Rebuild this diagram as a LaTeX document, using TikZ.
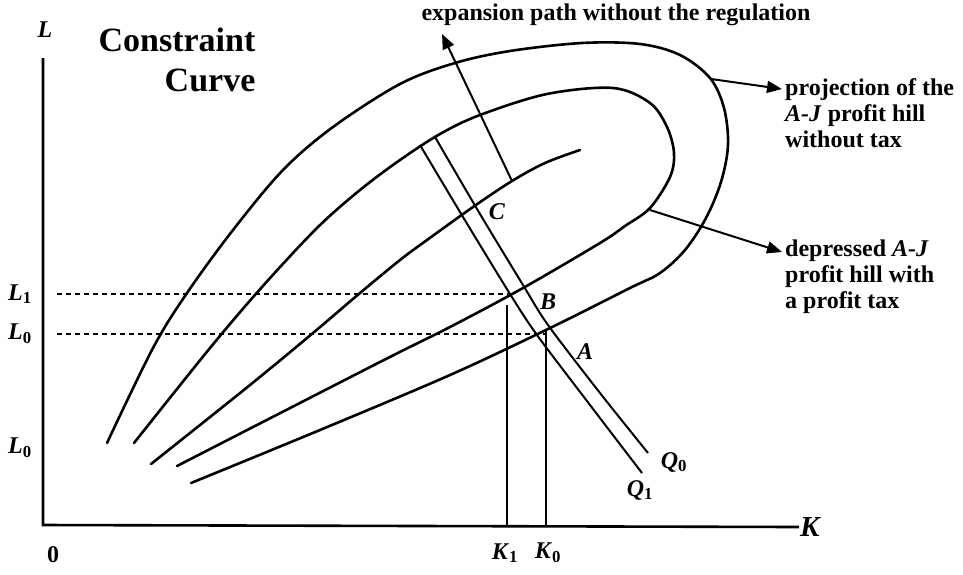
\documentclass[tikz,border=0pt]{standalone}
\usepackage{fontspec}
\setmainfont{Liberation Serif}
\usepackage{tikz}
\usetikzlibrary{arrows.meta,positioning}
\newcommand\sbl[2]{\textit{#1}\textsubscript{#2}}

\begin{document}
\begin{tikzpicture}[x=1pt,y=-1pt, font=\fontsize{24}{26}\selectfont\bfseries, inner sep=1pt,
  curve/.style={line width=2.6pt, line cap=round},
  iso/.style={line width=2pt},
  guide/.style={line width=1.4pt, dash pattern=on 4.5pt off 4.5pt},
  drop/.style={line width=2pt},
  ptr/.style={line width=2pt, -{Triangle[length=15pt,width=12pt]}},
  big/.style={font=\fontsize{34}{40}\selectfont\bfseries}]
  \useasboundingbox (0,0) rectangle (963,574);
  \node (lax) at (45,30) {\textit{L}};
  \node[anchor=west, font=\fontsize{29}{32}\selectfont\bfseries] (kax) at (799,527) {\textit{K}};
  \coordinate (ltop) at (43,58);
  \coordinate (orig) at (43,525);
  \draw[line width=2.6pt] (ltop) -- (orig) -- (kax.west);
  \node (zero) at (53,555) {0};
  \node[big, align=right] (constr) at (177,60) {Constraint\\Curve};
  \draw[curve] plot[smooth, tension=0.55] coordinates {(107,443) (153,348) (187,293) (233,230) (283,170) (333,127) (400,84) (455,63) (510,51) (582,43) (640,44) (680,55) (710,78) (724,108) (728,145) (721,182) (706,218) (685,250) (660,273) (630,288) (548,329) (450,375) (320,430) (191,483)};
  \draw[curve] plot[smooth, tension=0.55] coordinates {(134,443) (210,348) (262,287) (317,228) (360,190) (400,160) (440,134) (480,115) (547,94) (613,88) (650,103) (667,127) (674,153) (670,177) (650,208) (625,226) (600,243) (523,288) (450,327) (380,362) (177,466)};
  \draw[curve] plot[smooth, tension=0.55] coordinates {(151,464) (250,385) (313,333) (360,293) (400,260) (427,240) (473,207) (512,181) (545,163) (580,150)};
  \draw[iso] plot[smooth] coordinates {(420,145) (463,217) (510,294) (537,335) (590,405) (642,473)};
  \draw[iso] plot[smooth] coordinates {(435,137) (480,214) (523,285) (548,325) (600,393) (648,453)};
  \coordinate (lonestart) at (57,294);
  \coordinate (lzerostart) at (57,334);
  \coordinate (bq) at (510,294);
  \coordinate (aq) at (546,334);
  \coordinate (aqtop) at (546,329);
  \coordinate (konetop) at (507,305);
  \draw[guide] (lonestart) -- (bq);
  \draw[guide] (lzerostart) -- (aq);
  \draw[drop] (aqtop) -- (aqtop |- orig);
  \draw[drop] (konetop) -- (konetop |- orig);
  \node (lone) at (20,294) {\sbl{L}{1}};
  \node (lzero) at (20,334) {\sbl{L}{0}};
  \node (lzerob) at (20,448) {\sbl{L}{0}};
  \node (kone) at (505,553) {\sbl{K}{1}};
  \node (kzero) at (548,553) {\sbl{K}{0}};
  \node (qzero) at (674,462) {\sbl{Q}{0}};
  \node (qone) at (640,490) {\sbl{Q}{1}};
  \node (pa) at (585,352) {\textit{A}};
  \node (pb) at (548,302) {\textit{B}};
  \node (pc) at (497,212) {\textit{C}};
  \node (exppath) at (616,15) {expansion path without the regulation};
  \coordinate (expfrom) at (512,181);
  \coordinate (exptip) at (442,34);
  \draw[ptr] (expfrom) -- (exptip);
  \node[align=left, anchor=north west] (projlbl) at (784,77) {projection of the\\\textit{A-J} profit hill\\without tax};
  \coordinate (projfrom) at (711,79);
  \coordinate (projtip) at (782,89);
  \draw[ptr] (projfrom) -- (projtip);
  \node[align=left, anchor=north west] (deplbl) at (784,239) {depressed \textit{A-J}\\profit hill with\\a profit tax};
  \coordinate (depfrom) at (650,210);
  \coordinate (deptip) at (782,252);
  \draw[ptr] (depfrom) -- (deptip);
\end{tikzpicture}
\end{document}
